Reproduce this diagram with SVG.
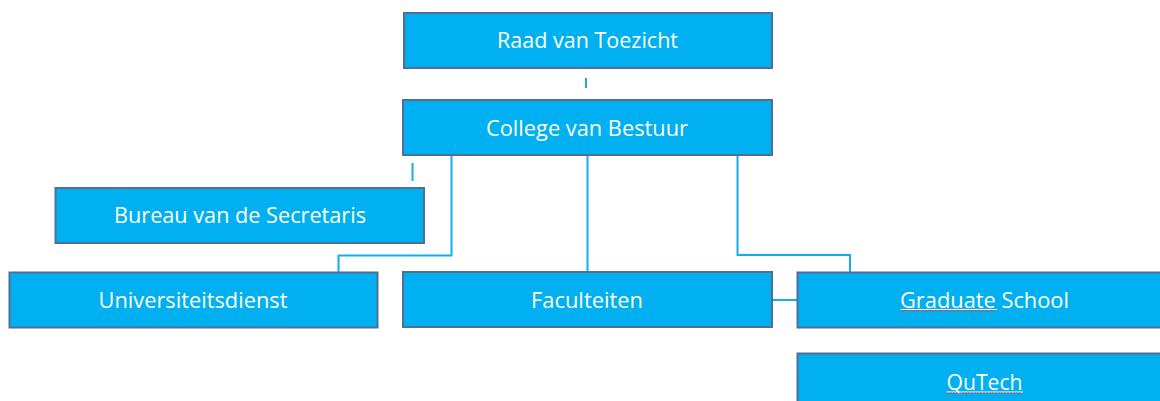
<svg xmlns="http://www.w3.org/2000/svg" width="1160" height="401" viewBox="0 0 1160 401">
<style>
.box{fill:#00B0F0;stroke:#4F6F95;stroke-width:2}
.lbl{font-family:"Open Sans","Liberation Sans",sans-serif;font-size:21px;fill:#FFFFFF;text-anchor:middle}
.con{fill:none;stroke:#12AEEA;stroke-width:2}
.ul{stroke:#FFFFFF;stroke-width:1.2}
.sq{fill:none;stroke:#C0504D;stroke-width:1}
</style>
<rect width="1160" height="401" fill="#FFFFFF"/>
<g id="connectors">
<path class="con" d="M586 78V88"/>
<path class="con" d="M412.5 163V181"/>
<path class="con" d="M451.5 155V255.5H338.5V272.5"/>
<path class="con" d="M587.5 155V272.5"/>
<path class="con" d="M737.5 155V255H850V272.5"/>
<path class="con" d="M772 300H797"/>
</g>
<g id="raad">
<rect class="box" x="404" y="13" width="368" height="55"/>
<text class="lbl" x="587.5" y="48" textLength="181" lengthAdjust="spacingAndGlyphs">Raad van Toezicht</text>
</g>
<g id="college">
<rect class="box" x="403" y="100" width="369" height="55"/>
<text class="lbl" x="587" y="135.5" textLength="202" lengthAdjust="spacingAndGlyphs">College van Bestuur</text>
</g>
<g id="bureau">
<rect class="box" x="55.5" y="188" width="368.5" height="55"/>
<text class="lbl" x="240" y="223" textLength="252" lengthAdjust="spacingAndGlyphs">Bureau van de Secretaris</text>
</g>
<g id="universiteitsdienst">
<rect class="box" x="9.5" y="272.5" width="368" height="55"/>
<text class="lbl" x="193" y="307.5" textLength="189" lengthAdjust="spacingAndGlyphs">Universiteitsdienst</text>
</g>
<g id="faculteiten">
<rect class="box" x="403" y="272" width="369" height="55"/>
<text class="lbl" x="587" y="307.5" textLength="112" lengthAdjust="spacingAndGlyphs">Faculteiten</text>
</g>
<g id="graduate">
<rect class="box" x="797.5" y="272.5" width="375" height="55"/>
<text class="lbl" x="984.5" y="307.5" textLength="169" lengthAdjust="spacingAndGlyphs">Graduate School</text>
<path class="ul" d="M900.5 309.5H997"/>
<path class="sq" d="M900.5 311.5l1.5-1.5l1.5 1.5l1.5-1.5l1.5 1.5l1.5-1.5l1.5 1.5l1.5-1.5l1.5 1.5l1.5-1.5l1.5 1.5l1.5-1.5l1.5 1.5l1.5-1.5l1.5 1.5l1.5-1.5l1.5 1.5l1.5-1.5l1.5 1.5l1.5-1.5l1.5 1.5l1.5-1.5l1.5 1.5l1.5-1.5l1.5 1.5l1.5-1.5l1.5 1.5l1.5-1.5l1.5 1.5l1.5-1.5l1.5 1.5l1.5-1.5l1.5 1.5l1.5-1.5l1.5 1.5l1.5-1.5l1.5 1.5l1.5-1.5l1.5 1.5l1.5-1.5l1.5 1.5l1.5-1.5l1.5 1.5l1.5-1.5l1.5 1.5l1.5-1.5l1.5 1.5l1.5-1.5l1.5 1.5l1.5-1.5l1.5 1.5l1.5-1.5l1.5 1.5l1.5-1.5l1.5 1.5l1.5-1.5l1.5 1.5l1.5-1.5l1.5 1.5l1.5-1.5l1.5 1.5l1.5-1.5l1.5 1.5l1.5-1.5"/>
</g>
<g id="qutech">
<rect class="box" x="797.5" y="353.5" width="375" height="60"/>
<text class="lbl" x="984.5" y="390" textLength="76" lengthAdjust="spacingAndGlyphs">QuTech</text>
<path class="ul" d="M946.5 392H1023"/>
<path class="sq" d="M946.5 394l1.5-1.5l1.5 1.5l1.5-1.5l1.5 1.5l1.5-1.5l1.5 1.5l1.5-1.5l1.5 1.5l1.5-1.5l1.5 1.5l1.5-1.5l1.5 1.5l1.5-1.5l1.5 1.5l1.5-1.5l1.5 1.5l1.5-1.5l1.5 1.5l1.5-1.5l1.5 1.5l1.5-1.5l1.5 1.5l1.5-1.5l1.5 1.5l1.5-1.5l1.5 1.5l1.5-1.5l1.5 1.5l1.5-1.5l1.5 1.5l1.5-1.5l1.5 1.5l1.5-1.5l1.5 1.5l1.5-1.5l1.5 1.5l1.5-1.5l1.5 1.5l1.5-1.5l1.5 1.5l1.5-1.5l1.5 1.5l1.5-1.5l1.5 1.5l1.5-1.5l1.5 1.5l1.5-1.5l1.5 1.5l1.5-1.5l1.5 1.5"/>
</g>
</svg>
